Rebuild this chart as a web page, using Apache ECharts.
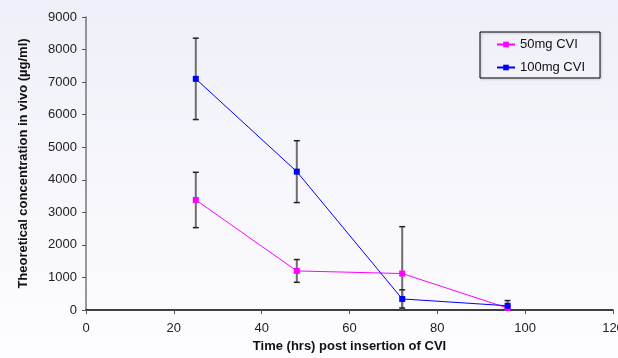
<!DOCTYPE html>
<html>
<head>
<meta charset="utf-8">
<script src="https://cdn.jsdelivr.net/npm/echarts@6/dist/echarts.min.js"></script>
<style>
html,body{margin:0;padding:0;background:#fff;}
#c{width:618px;height:358px;}
</style>
</head>
<body>
<div id="c"></div>
<script>
var times = [25, 48, 72, 96];
var seriesNames = ['50mg CVI', '100mg CVI'];
var conc50 = [3380, 1200, 1120, 60];
var err50 = [850, 350, 1440, 60];
var conc100 = [7100, 4250, 340, 130];
var err100 = [1250, 950, 280, 160];
var xTicks = [0, 20, 40, 60, 80, 100, 120];
var yTicks = [0, 1000, 2000, 3000, 4000, 5000, 6000, 7000, 8000, 9000];

function pairs(xs, ys) { return xs.map(function (x, i) { return [x, ys[i]]; }); }
function errData(xs, ys, es) { return xs.map(function (x, i) { return [x, ys[i], es[i]]; }); }

function renderErr(params, api) {
  var x = api.value(0), y = api.value(1), e = api.value(2);
  var lo = Math.max(0, y - e);
  var top = api.coord([x, y + e]);
  var bot = api.coord([x, lo]);
  var w = 3;
  var children = [
    { type: 'line', shape: { x1: top[0], y1: top[1], x2: bot[0], y2: bot[1] }, style: { stroke: '#6e6e6e', lineWidth: 2 } },
    { type: 'line', shape: { x1: top[0] - w, y1: top[1], x2: top[0] + w, y2: top[1] }, style: { stroke: '#222', lineWidth: 1.5 } }
  ];
  if (y - e > 0) {
    children.push({ type: 'line', shape: { x1: bot[0] - w, y1: bot[1], x2: bot[0] + w, y2: bot[1] }, style: { stroke: '#222', lineWidth: 1.5 } });
  }
  return { type: 'group', children: children };
}

var chart = echarts.init(document.getElementById('c'), null, { renderer: 'canvas' });
var FONT = 'Liberation Sans, Arial, sans-serif';
var axisFont = { fontFamily: FONT, fontSize: 13, color: '#222' };
chart.setOption({
  animation: false,
  backgroundColor: {
    type: 'linear', x: 0, y: 0, x2: 0, y2: 1,
    colorStops: [{ offset: 0, color: '#efeff9' }, { offset: 1, color: '#fdfdff' }]
  },
  grid: { left: 86, right: 5, top: 17, bottom: 48, containLabel: false, outerBoundsMode: 'none' },
  legend: {
    data: seriesNames,
    orient: 'vertical',
    left: 480, top: 32,
    padding: [6, 15, 4, 16],
    itemGap: 10,
    itemWidth: 18, itemHeight: 7,
    borderColor: '#000', borderWidth: 1,
    backgroundColor: 'rgba(255,255,255,0)',
    shadowColor: 'rgba(0,0,0,0.25)', shadowBlur: 2, shadowOffsetX: 1, shadowOffsetY: 1,
    textStyle: { fontFamily: FONT, fontSize: 13, color: '#111' }
  },
  xAxis: {
    type: 'value', min: xTicks[0], max: xTicks[xTicks.length - 1], interval: 20,
    name: 'Time (hrs) post insertion of CVI', nameLocation: 'middle', nameGap: 30,
    nameTextStyle: { fontFamily: FONT, fontSize: 13, fontWeight: 'bold', color: '#111' },
    axisLine: { lineStyle: { color: '#000', width: 1.5 } },
    axisTick: { show: true, inside: false, length: 4, lineStyle: { color: '#555' } },
    axisLabel: Object.assign({ margin: 12, hideOverlap: false }, axisFont),
    splitLine: { show: false }
  },
  yAxis: {
    type: 'value', min: yTicks[0], max: yTicks[yTicks.length - 1], interval: 1000,
    name: 'Theoretical concentration in vivo (\u00b5g/ml)', nameLocation: 'middle', nameGap: 56, nameRotate: 90,
    nameTextStyle: { fontFamily: FONT, fontSize: 13, fontWeight: 'bold', color: '#111' },
    axisLine: { show: true, lineStyle: { color: '#777', width: 1.5 } },
    axisTick: { show: true, inside: false, length: 4, lineStyle: { color: '#555' } },
    axisLabel: Object.assign({ margin: 9, formatter: function (v) { return String(v); } }, axisFont),
    splitLine: { show: false }
  },
  series: [
    { type: 'custom', name: 'err50', renderItem: renderErr, data: errData(times, conc50, err50), z: 1, clip: true, silent: true },
    { type: 'custom', name: 'err100', renderItem: renderErr, data: errData(times, conc100, err100), z: 1, clip: true, silent: true },
    {
      type: 'line', name: seriesNames[0], data: pairs(times, conc50), z: 3,
      symbol: 'rect', symbolSize: 6, showAllSymbol: true,
      lineStyle: { color: '#ff00ff', width: 1 }, itemStyle: { color: '#ff00ff' }
    },
    {
      type: 'line', name: seriesNames[1], data: pairs(times, conc100), z: 4,
      symbol: 'rect', symbolSize: 6, showAllSymbol: true,
      lineStyle: { color: '#0000ff', width: 1 }, itemStyle: { color: '#0000ff' }
    }
  ]
});
</script>
</body>
</html>
